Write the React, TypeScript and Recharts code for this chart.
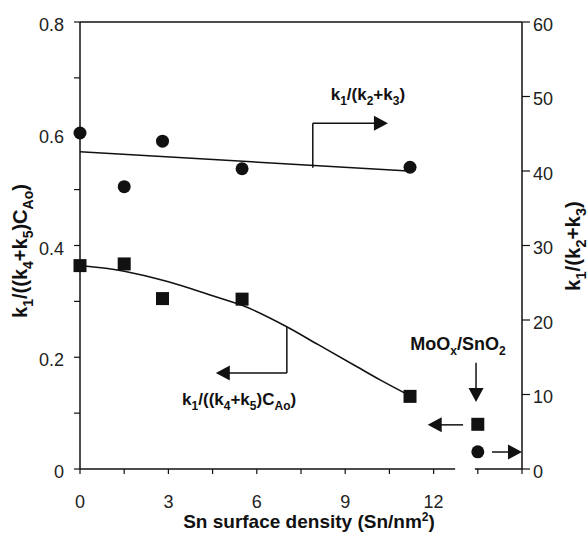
import React from 'react';
import { ComposedChart, XAxis, YAxis, Scatter, Line, ReferenceLine, ReferenceDot } from 'recharts';

const FONT = '"Liberation Sans", Arial, Helvetica, sans-serif';
const INK = '#111111';

// ---- axes ----
const xTicks = [0, 1.5, 3, 4.5, 6, 7.5, 9, 10.5, 12, 13.5, 15];
const xTickLabels = [0, 3, 6, 9, 12];
const leftTicks = [0, 0.1, 0.2, 0.3, 0.4, 0.5, 0.6, 0.7, 0.8];
const leftTickLabels = [0, 0.2, 0.4, 0.6, 0.8];
const rightTicks = [0, 10, 20, 30, 40, 50, 60];

// ---- measured data (Sn surface density, Sn/nm^2) ----
const densities = [0, 1.5, 2.8, 5.5, 11.2];
const ratioK1K23 = [45.1, 37.9, 44.0, 40.3, 40.5]; // right axis, circles
const ratioK1K45 = [0.364, 0.367, 0.305, 0.304, 0.13]; // left axis, squares

// MoOx/SnO2 reference sample
const mooxDensity = [13.5];
const mooxK1K23 = [2.3];
const mooxK1K45 = [0.08];

// ---- fitted trend lines ----
const fitK1K23X = [0, 11.15];
const fitK1K23Y = [42.6, 40.0];
const fitK1K45X = [0, 1.5, 3, 4.5, 5.5, 7, 8.1, 9.4, 10.2, 11.2];
const fitK1K45Y = [0.364, 0.354, 0.335, 0.31, 0.293, 0.255, 0.222, 0.183, 0.159, 0.131];

const zip = (xs: number[], ys: number[]) => xs.map((x, i) => ({ x, y: ys[i] }));
const circles = zip(densities, ratioK1K23);
const squares = zip(densities, ratioK1K45);
const mooxCircle = zip(mooxDensity, mooxK1K23);
const mooxSquare = zip(mooxDensity, mooxK1K45);
const fitCircles = zip(fitK1K23X, fitK1K23Y);
const fitSquares = zip(fitK1K45X, fitK1K45Y);

type Part = [string, ('sub' | 'sup' | '')?];

const Rich = ({ x, y, parts, size, small, anchor = 'middle', rotate, supRaise = 0.42 }: any) => {
  let cur = 0;
  const spans = (parts as Part[]).map(([t, kind], i) => {
    const target = kind === 'sub' ? size * 0.28 : kind === 'sup' ? -size * supRaise : 0;
    const dy = target - cur;
    cur = target;
    return (
      <tspan key={i} dy={dy} fontSize={kind ? small : size}>
        {t}
      </tspan>
    );
  });
  return (
    <text
      x={x}
      y={y}
      textAnchor={anchor}
      fontFamily={FONT}
      fontWeight="bold"
      fill={INK}
      fontSize={size}
      transform={rotate ? `rotate(${rotate} ${x} ${y})` : undefined}
    >
      {spans}
    </text>
  );
};

const labelK1K45: Part[] = [['k'], ['1', 'sub'], ['/((k'], ['4', 'sub'], ['+k'], ['5', 'sub'], [')C'], ['Ao', 'sub'], [')']];
const labelK1K23: Part[] = [['k'], ['1', 'sub'], ['/(k'], ['2', 'sub'], ['+k'], ['3', 'sub'], [')']];
const labelMoox: Part[] = [['MoO'], ['x', 'sub'], ['/SnO'], ['2', 'sub']];
const labelX: Part[] = [['Sn surface density (Sn/nm'], ['2', 'sup'], [')']];

const XTick = (props: any) => {
  const { x, y, payload } = props;
  if (!xTickLabels.includes(payload.value)) return <g />;
  return (
    <text x={x} y={y} dy={32} textAnchor="middle" fontFamily={FONT} fontSize={18} fill="#222">
      {payload.value}
    </text>
  );
};

const LeftTick = (props: any) => {
  const { x, y, payload } = props;
  if (!leftTickLabels.some((v) => Math.abs(v - payload.value) < 1e-9)) return <g />;
  return (
    <text x={x} y={y} dy={9} textAnchor="end" fontFamily={FONT} fontSize={18} fill="#222">
      {payload.value === 0 ? '0' : payload.value.toFixed(1)}
    </text>
  );
};

const RightTick = (props: any) => {
  const { x, y, payload } = props;
  return (
    <text x={x} y={y} dy={8.5} textAnchor="start" fontFamily={FONT} fontSize={18} fill="#222">
      {payload.value}
    </text>
  );
};

const CircleShape = (p: any) => <circle cx={p.cx} cy={p.cy} r={6.5} fill={INK} />;
const SquareShape = (p: any) => <rect x={p.cx - 6.5} y={p.cy - 6.5} width={13} height={13} fill={INK} />;

const head = (dir: 'right' | 'left' | 'down') => (p: any) => {
  const { cx, cy } = p;
  const L = 14;
  const W = 7.5;
  let pts = '';
  if (dir === 'right') pts = `${cx},${cy} ${cx - L},${cy - W} ${cx - L},${cy + W}`;
  if (dir === 'left') pts = `${cx},${cy} ${cx + L},${cy - W} ${cx + L},${cy + W}`;
  if (dir === 'down') pts = `${cx},${cy} ${cx - W},${cy - L} ${cx + W},${cy - L}`;
  return <polygon points={pts} fill={INK} />;
};

const textShape = (parts: Part[], size: number, small: number) => (p: any) => (
  <Rich x={p.cx} y={p.cy} parts={parts} size={size} small={small} />
);

const seg = (x1: number, y1: number, x2: number, y2: number, w = 1.5) => (
  <ReferenceLine
    yAxisId="left"
    segment={[
      { x: x1, y: y1 },
      { x: x2, y: y2 },
    ]}
    stroke={INK}
    strokeWidth={w}
    ifOverflow="visible"
  />
);

export default function App() {
  return (
    <div style={{ position: 'absolute', left: 0, top: 0, width: 588, height: 539, background: '#fff' }}>
      <ComposedChart width={588} height={539} margin={{ top: 22, right: 0, bottom: 0, left: 0 }}>
        <XAxis
          type="number"
          dataKey="x"
          domain={[0, 15]}
          ticks={xTicks}
          interval={0}
          height={70}
          axisLine={false}
          tickSize={5}
          tickLine={{ stroke: INK, strokeWidth: 1.2 }}
          tick={<XTick />}
        />
        <YAxis
          yAxisId="left"
          type="number"
          dataKey="y"
          domain={[0, 0.8]}
          ticks={leftTicks}
          interval={0}
          width={80}
          tickSize={6}
          tickMargin={10}
          axisLine={{ stroke: INK, strokeWidth: 1.5 }}
          tickLine={{ stroke: INK, strokeWidth: 1.2 }}
          tick={<LeftTick />}
        />
        <YAxis
          yAxisId="right"
          orientation="right"
          type="number"
          dataKey="y"
          domain={[0, 60]}
          ticks={rightTicks}
          interval={0}
          width={66}
          tickSize={8}
          tickMargin={3}
          axisLine={{ stroke: INK, strokeWidth: 1.5 }}
          tickLine={{ stroke: INK, strokeWidth: 1.2 }}
          tick={<RightTick />}
        />

        {/* frame: top border and broken x axis */}
        {seg(0, 0.8, 15, 0.8)}
        {seg(0, 0, 12.73, 0)}
        {seg(13.4, 0, 15, 0)}

        <Line
          yAxisId="right"
          data={fitCircles}
          dataKey="y"
          type="linear"
          stroke={INK}
          strokeWidth={1.5}
          dot={false}
          activeDot={false}
          isAnimationActive={false}
        />
        <Line
          yAxisId="left"
          data={fitSquares}
          dataKey="y"
          type="monotone"
          stroke={INK}
          strokeWidth={1.5}
          dot={false}
          activeDot={false}
          isAnimationActive={false}
        />
        <Scatter yAxisId="right" data={circles} dataKey="y" shape={CircleShape} isAnimationActive={false} />
        <Scatter yAxisId="left" data={squares} dataKey="y" shape={SquareShape} isAnimationActive={false} />
        <Scatter yAxisId="right" data={mooxCircle} dataKey="y" shape={CircleShape} isAnimationActive={false} />
        <Scatter yAxisId="left" data={mooxSquare} dataKey="y" shape={SquareShape} isAnimationActive={false} />

        {/* annotation: k1/(k2+k3) -> right axis */}
        {seg(7.9, 0.539, 7.9, 0.619)}
        {seg(7.9, 0.619, 10.05, 0.619)}
        <ReferenceDot yAxisId="left" x={10.45} y={0.619} r={1} ifOverflow="visible" shape={head('right')} />
        <ReferenceDot yAxisId="left" x={9.77} y={0.66} r={1} ifOverflow="visible" shape={textShape(labelK1K23, 17, 12)} />

        {/* annotation: k1/((k4+k5)CAo) -> left axis */}
        {seg(7.02, 0.254, 7.02, 0.172)}
        {seg(7.02, 0.172, 5.0, 0.172)}
        <ReferenceDot yAxisId="left" x={4.61} y={0.172} r={1} ifOverflow="visible" shape={head('left')} />
        <ReferenceDot yAxisId="left" x={5.4} y={0.1145} r={1} ifOverflow="visible" shape={textShape(labelK1K45, 17, 12)} />

        {/* MoOx/SnO2 */}
        <ReferenceDot yAxisId="left" x={12.83} y={0.213} r={1} ifOverflow="visible" shape={textShape(labelMoox, 18, 12)} />
        {seg(13.44, 0.19, 13.44, 0.143)}
        <ReferenceDot yAxisId="left" x={13.44} y={0.12} r={1} ifOverflow="visible" shape={head('down')} />
        {seg(13.0, 0.079, 12.25, 0.079)}
        <ReferenceDot yAxisId="left" x={11.8} y={0.079} r={1} ifOverflow="visible" shape={head('left')} />
        {seg(13.98, 0.0304, 14.55, 0.0304)}
        <ReferenceDot yAxisId="left" x={15} y={0.0304} r={1} ifOverflow="visible" shape={head('right')} />
      </ComposedChart>
      <svg width={588} height={539} style={{ position: 'absolute', left: 0, top: 0, pointerEvents: 'none' }}>
        <Rich x={309} y={528} parts={labelX} size={19} small={12} supRaise={0.36} />
        <Rich x={27} y={251} parts={labelK1K45} size={20} small={14} rotate={-90} />
        <Rich x={580} y={246} parts={labelK1K23} size={20.5} small={14.5} rotate={-90} />
      </svg>
    </div>
  );
}
